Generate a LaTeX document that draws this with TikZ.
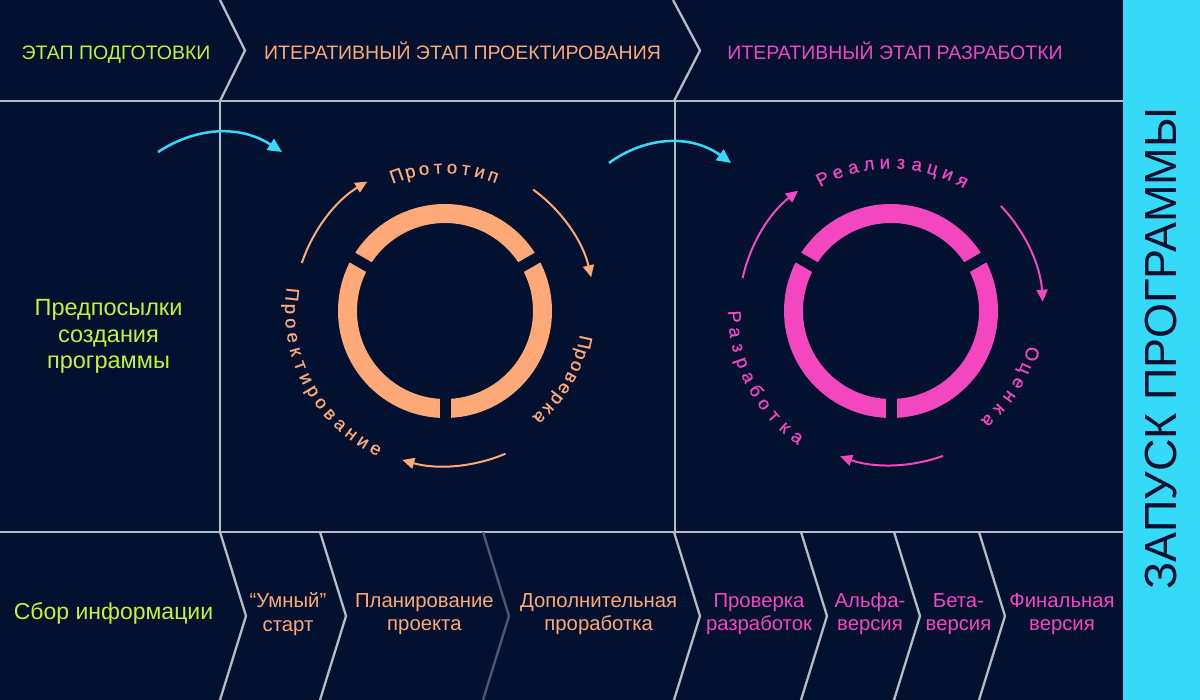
\documentclass[tikz,border=0pt]{standalone}
\usepackage{fontspec}
\setmainfont{Liberation Sans}
\newfontfamily\circfont[FakeBold=0.5]{Liberation Sans}
\usetikzlibrary{arrows.meta}
\definecolor{bgc}{HTML}{01112F}
\definecolor{cyanc}{HTML}{36DAF9}
\definecolor{limec}{HTML}{C8F03A}
\definecolor{orangec}{HTML}{FFA878}
\definecolor{pinkc}{HTML}{F446BE}
\definecolor{linec}{HTML}{B5BBC7}
\definecolor{dimc}{HTML}{4D5872}
\tikzset{
  gridline/.style={draw=linec, line width=2.3},
  hlab/.style={font=\fontsize{19.5}{23}\selectfont, inner sep=0, anchor=base},
  blab/.style={font=\fontsize{20.3}{23.5}\selectfont, align=center, inner sep=0},
  llab/.style={font=\fontsize{23.5}{26.5}\selectfont, align=center, inner sep=0},
  circlab/.style={font=\circfont\fontsize{18.5}{20}\selectfont, inner sep=0, anchor=base},
  cyc/.style={line width=2, -{Triangle[length=12pt,width=11pt]}},
  cyanarr/.style={draw=cyanc, line width=2.5, -{Triangle[length=14pt,width=13pt]}},
}
% clockwise letters, tops outward: #1 centre, #2 baseline radius, #3 mid angle, #4 step, #5 count, #6 colour, #7 name, #8 letters
\newcommand\cwletters[8]{%
  \foreach \ch [count=\i] in {#8} {%
    \pgfmathsetmacro\ang{#3+((#5+1)/2-\i)*#4}%
    \node[circlab, text=#6, rotate=\ang-90] (#7\i) at ([shift={(\ang:#2)}]#1) {\ch};
  }}
% counter-clockwise letters, tops inward
\newcommand\ccwletters[8]{%
  \foreach \ch [count=\i] in {#8} {%
    \pgfmathsetmacro\ang{#3+(\i-(#5+1)/2)*#4}%
    \node[circlab, text=#6, rotate=\ang+90] (#7\i) at ([shift={(\ang:#2)}]#1) {\ch};
  }}
\begin{document}
\begin{tikzpicture}[x=1pt,y=1pt]
\useasboundingbox (0,0) rectangle (1200,700);
\fill[bgc] (0,0) rectangle (1200,700);
\fill[cyanc] (1122.5,0) rectangle (1200,700);

% grid
\draw[gridline] (220,700) -- (245,649.5) -- (220,599);
\draw[gridline] (673,700) -- (700,649.5) -- (674,599);
\draw[gridline] (0,599) -- (1122.5,599);
\draw[gridline] (0,168) -- (1122.5,168);
\draw[gridline] (220,599) -- (220,168);
\draw[gridline] (675,599) -- (675,168);
\foreach \x in {220,320,674,801,894,979}
  \draw[gridline] (\x,168) -- (\x+26,84) -- (\x,0);
\draw[gridline, draw=dimc] (483,168) -- (509,84) -- (483,0);

% header
\node[hlab, text=limec] (h1) at (116,640.7) {ЭТАП ПОДГОТОВКИ};
\node[hlab, text=orangec] (h2) at (462.5,640.7) {ИТЕРАТИВНЫЙ ЭТАП ПРОЕКТИРОВАНИЯ};
\node[hlab, text=pinkc] (h3) at (895,640.7) {ИТЕРАТИВНЫЙ ЭТАП РАЗРАБОТКИ};

% left column
\node[llab, text=limec] (pred) at (108.5,363.5) {Предпосылки\\создания\\программы};
\node[font=\fontsize{23}{26}\selectfont, inner sep=0, text=limec, anchor=base] (sbor) at (113.5,80) {Сбор информации};

% bottom row
\node[blab, text=orangec] (umn) at (288,86) {“Умный”\\старт};
\node[blab, text=orangec] (plan) at (424.4,86) {Планирование\\проекта};
\node[blab, text=orangec] (dop) at (598.7,86) {Дополнительная\\проработка};
\node[blab, text=pinkc] (prov) at (759,86) {Проверка\\разработок};
\node[blab, text=pinkc] (alfa) at (870,86) {Альфа-\\версия};
\node[blab, text=pinkc] (beta) at (958.5,86) {Бета-\\версия};
\node[blab, text=pinkc] (fin) at (1062,86) {Финальная\\версия};

% launch bar
\node[font=\fontsize{45}{50}\selectfont, text=bgc, rotate=90, inner sep=0] (zap) at (1160.5,351.5) {ЗАПУСК ПРОГРАММЫ};

% cyan transition arrows
\coordinate (ca1) at (158,548);
\coordinate (ca1e) at (282,548);
\draw[cyanarr] (ca1) to[bend left=33] (ca1e);
\coordinate (ca2) at (609,537);
\coordinate (ca2e) at (731,537);
\draw[cyanarr] (ca2) to[bend left=36] (ca2e);

% orange cycle
\coordinate (oc) at (445,389);
\draw[orangec, line width=19] (oc) circle[radius=97.5];
\foreach \a in {30,150,270}
  \draw[bgc, line width=11] ([shift={(\a:80)}]oc) -- ([shift={(\a:115)}]oc);
\cwletters{oc}{137.5}{90}{5.63}{8}{orangec}{ol}{П,р,о,т,о,т,и,п}
\cwletters{oc}{137}{-30.5}{5.1}{8}{orangec}{or}{П,р,о,в,е,р,к,а}
\ccwletters{oc}{160}{208.6}{5.34}{14}{orangec}{ok}{П,р,о,е,к,т,и,р,о,в,а,н,и,е}
\path (oc) ++(161.5:151) coordinate (oa1);
\draw[cyc, orangec] (oa1) arc[start angle=161.5, end angle=121, radius=151];
\path (oc) ++(54:150) coordinate (oa2);
\draw[cyc, orangec] (oa2) arc[start angle=54, end angle=13, radius=150];
\path (oc) ++(-67:155) coordinate (oa3);
\draw[cyc, orangec] (oa3) arc[start angle=-67, end angle=-106, radius=155];

% pink cycle
\coordinate (pc) at (891,389);
\draw[pinkc, line width=19] (pc) circle[radius=97.5];
\foreach \a in {30,150,270}
  \draw[bgc, line width=11] ([shift={(\a:80)}]pc) -- ([shift={(\a:115)}]pc);
\cwletters{pc}{142.5}{89.25}{6.23}{10}{pinkc}{pl}{Р,е,а,л,и,з,а,ц,и,я}
\cwletters{pc}{141}{-32.75}{6.3}{6}{pinkc}{pr}{О,ц,е,н,к,а}
\ccwletters{pc}{163}{207.75}{5.7}{10}{pinkc}{pk}{Р,а,з,р,а,б,о,т,к,а}
\path (pc) ++(167.5:152) coordinate (pa1);
\draw[cyc, pinkc] (pa1) arc[start angle=167.5, end angle=127.7, radius=152];
\path (pc) ++(43.7:152) coordinate (pa2);
\draw[cyc, pinkc] (pa2) arc[start angle=43.7, end angle=3.5, radius=152];
\path (pc) ++(-70.3:154) coordinate (pa3);
\draw[cyc, pinkc] (pa3) arc[start angle=-70.3, end angle=-109.3, radius=154];
\end{tikzpicture}
\end{document}
